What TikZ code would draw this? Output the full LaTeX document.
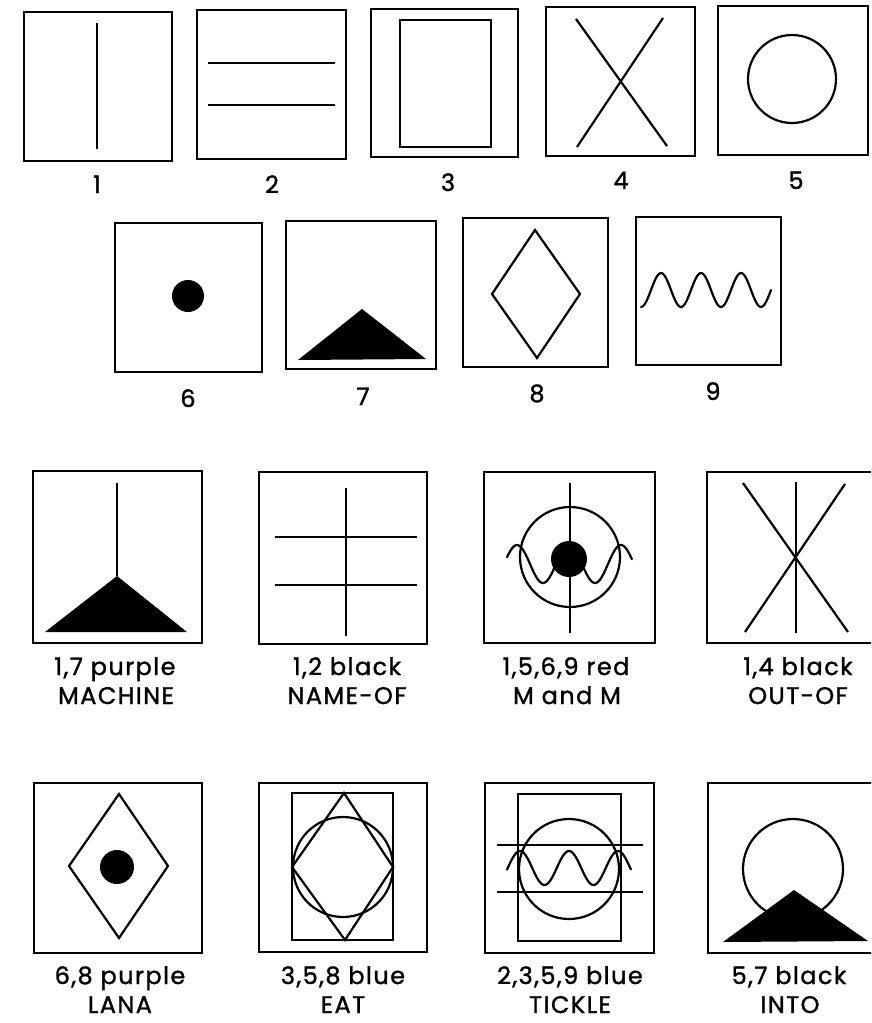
\documentclass[tikz,border=0pt]{standalone}
\usepackage{fontspec}
\setmainfont{Poppins}
\newfontfamily\labfont{Poppins}[LetterSpace=6,RawFeature={embolden=1.3}]
\begin{document}
\begin{tikzpicture}[x=1pt,y=-1pt,
  frame/.style={draw=black,line width=2.6pt,line join=miter},
  shp/.style={draw=black,line width=2.2pt,line join=miter},
  blob/.style={fill=black},
  wav/.style={draw=black,line width=2.2pt,line cap=round,smooth},
  lab/.style={anchor=base,inner sep=0pt,font=\labfont\fontsize{24}{28}\selectfont}]
\useasboundingbox (0,0) rectangle (871,1023);
\clip (0,0) rectangle (871,1023);
\fill[white] (0,0) rectangle (871,1023);

% ---- row 1 ----
\draw[frame] (24,12) rectangle (172,161);
\draw[shp] (97,23) -- (97,149);
\node[lab] (n1) at (97,193) {1};

\draw[frame] (197,10) rectangle (346,159);
\draw[shp] (208,63) -- (335,63);
\draw[shp] (208,105) -- (335,105);
\node[lab] (n2) at (272,193) {2};

\draw[frame] (371,9) rectangle (518,157);
\draw[shp] (400,20) rectangle (491,147);
\node[lab] (n3) at (448,191) {3};

\draw[frame] (546,7) rectangle (695,156);
\draw[shp] (576,19) -- (667,146);
\draw[shp] (663,18) -- (577,147);
\node[lab] (n4) at (621,189) {4};

\draw[frame] (718,6) rectangle (868,155);
\draw[shp] (792,79) circle (44);
\node[lab] (n5) at (796,189) {5};

% ---- row 2 ----
\draw[frame] (115,223) rectangle (262,372);
\fill[blob] (188,296) circle (16);
\node[lab] (n6) at (188,407) {6};

\draw[frame] (286,221) rectangle (436,369);
\fill[blob] (298,360) -- (362,309) -- (426,359) -- cycle;
\node[lab] (n7) at (363,405) {7};

\draw[frame] (463,218) rectangle (608,367);
\draw[shp] (535,230) -- (580,294) -- (537,358) -- (492,294) -- cycle;
\node[lab] (n8) at (537,402) {8};

\draw[frame] (636,217) rectangle (781,365);
\draw[wav] plot[domain=0:3.25,samples=80] ({641+40*\x},{290+17*cos(360*\x)});
\node[lab] (n9) at (713,400) {9};

% ---- row 3 ----
\draw[frame] (33,471) rectangle (202,643);
\draw[shp] (117,483) -- (117,576);
\fill[blob] (45,632) -- (117,576) -- (187,632) -- cycle;
\node[lab] (m1) at (115,675) {1,7 purple};
\node[lab] (m2) at (116,704) {MACHINE};

\draw[frame] (259,472) rectangle (427,644);
\draw[shp] (346,488) -- (346,636);
\draw[shp] (275,537) -- (417,537);
\draw[shp] (275,585) -- (417,585);
\node[lab] (o1) at (347,675) {1,2 black};
\node[lab] (o2) at (347,704) {NAME-OF};

\draw[frame] (484,472) rectangle (655,643);
\draw[shp] (570,483) -- (570,633);
\draw[shp] (570,557) circle (50);
\draw[wav] plot[domain=0.058:2.46,samples=90] ({504+52*\x},{564-19*sin(360*\x)});
\fill[blob] (569,559) circle (18);
\node[lab] (p1) at (566,675) {1,5,6,9 red};
\node[lab] (p2) at (567,704) {M and M};

\draw[frame] (707,472) rectangle (876,643);
\draw[shp] (796,482) -- (796,633);
\draw[shp] (743,483) -- (848,632);
\draw[shp] (845,484) -- (745,632);
\node[lab] (q1) at (798,675) {1,4 black};
\node[lab] (q2) at (798,704) {OUT-OF};

% ---- row 4 ----
\draw[frame] (34,783) rectangle (202,953);
\draw[shp] (119,794) -- (168,866) -- (119,938) -- (69,866) -- cycle;
\fill[blob] (117,867) circle (17);
\node[lab] (r1) at (120,984) {6,8 purple};
\node[lab] (r2) at (120,1013) {LANA};

\draw[frame] (259,783) rectangle (427,952);
\draw[shp] (292,793) rectangle (393,940);
\draw[shp] (344,793) -- (393,867) -- (345,940) -- (292,867) -- cycle;
\draw[shp] (343,867) circle (50);
\node[lab] (s1) at (343,984) {3,5,8 blue};
\node[lab] (s2) at (343,1013) {EAT};

\draw[frame] (485,783) rectangle (654,953);
\draw[shp] (518,794) rectangle (621,941);
\draw[shp] (569,869) circle (50);
\draw[shp] (497,845) -- (643,845);
\draw[shp] (497,892) -- (643,892);
\draw[wav] plot[domain=-1.265:1.265,samples=90] ({569+49*\x},{868-17*cos(360*\x)});
\node[lab] (t1) at (570,984) {2,3,5,9 blue};
\node[lab] (t2) at (570,1013) {TICKLE};

\draw[frame] (708,783) rectangle (876,953);
\draw[shp] (793,869) circle (50);
\fill[blob] (723,942) -- (794,890) -- (868,941) -- cycle;
\node[lab] (u1) at (789,984) {5,7 black};
\node[lab] (u2) at (790,1013) {INTO};
\end{tikzpicture}
\end{document}
